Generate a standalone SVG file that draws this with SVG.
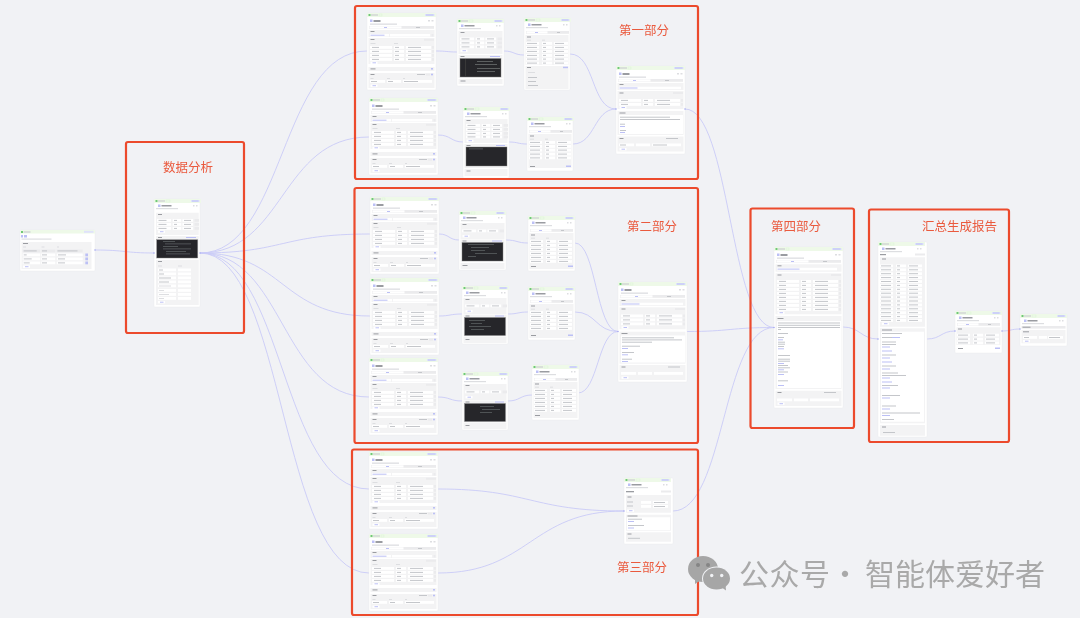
<svg xmlns="http://www.w3.org/2000/svg" xmlns:xlink="http://www.w3.org/1999/xlink" width="1080" height="618" viewBox="0 0 1080 618">
<style>
.c{fill:#fff;stroke:#e9eaec;stroke-width:.4}
.p{fill:#f3f3f4}.w{fill:#fff}.t{fill:#c4c6ca}.l{fill:#dddee1}.k{fill:#9a9ca1}.b{fill:#bcc0f5}.d{fill:#26262a;stroke:#8a8a8c;stroke-width:.4}.g{fill:#eef9e8}.gd{fill:#6fc975}.tg{fill:#dfe2fb}.s{fill:#ebebed}.cl{fill:#5c5e60}
.e{fill:none;stroke:#c9cbf7;stroke-width:.9}
.dot{fill:#9a9df2}
.box{fill:none;stroke:#ec4a2c;stroke-width:2.2}
.lab{font-family:"Noto Sans CJK SC","Liberation Sans",sans-serif;font-size:12.5px;fill:#ea5a3e}
.wm{font-family:"Noto Sans CJK SC","Liberation Sans",sans-serif;font-size:30px;fill:#a9a9a9}
</style>
<defs>
<filter id="soft" x="-5%" y="-5%" width="110%" height="110%"><feGaussianBlur stdDeviation="0.3"/></filter>
<g id="hW"><rect class="g" width="69" height="4"/><rect class="gd" x="1.5" y="1" width="2" height="2"/><rect class="t" x="4" y="1.5" width="7" height="1"/><rect class="g" x="12" y="1" width="3" height="2" stroke="#cfeec8" stroke-width=".3"/><rect class="tg" x="58" y="1" width="9.5" height="2"/><rect class="b" x="59" y="1.5" width="7.5" height="1"/><rect class="b" x="3" y="6.5" width="2.5" height="2.5"/><rect class="k" x="6.5" y="7" width="7" height="2"/><rect class="l" x="61" y="7" width="2" height="1.5"/><rect class="l" x="64.5" y="7" width="2" height="1.5"/><rect class="l" x="3" y="10.5" width="27" height="1.3"/></g>
<g id="hN"><rect class="g" width="47" height="4"/><rect class="gd" x="1.5" y="1" width="2" height="2"/><rect class="t" x="4" y="1.5" width="7" height="1"/><rect class="g" x="12" y="1" width="4" height="2" stroke="#cfeec8" stroke-width=".3"/><rect class="tg" x="37" y="1" width="8.5" height="2"/><rect class="b" x="38" y="1.5" width="6.5" height="1"/><rect class="b" x="4" y="5.5" width="2.5" height="2.5"/><rect class="k" x="7.5" y="6" width="10" height="1.5"/><rect class="l" x="39" y="6" width="1.5" height="1.5"/><rect class="l" x="42" y="6" width="1.5" height="1.5"/><rect class="l" x="2" y="9" width="22" height="1.2"/></g>
<g id="tW"><rect class="s" x="2" y="13" width="65" height="2.8"/><rect class="w" x="2.5" y="13.3" width="32" height="2.2"/><rect class="b" x="17" y="14" width="3" height="1"/><rect class="t" x="49" y="14" width="4" height="1"/></g>
<g id="tN"><rect class="s" x="2" y="13" width="43" height="2.8"/><rect class="w" x="2.5" y="13.3" width="21" height="2.2"/><rect class="b" x="11" y="14" width="3" height="1"/><rect class="t" x="33" y="14" width="3" height="1"/></g>
<g id="rW"><rect class="w" x="3" width="22" height="2.8"/><rect class="t" x="5" y=".9" width="7" height="1"/><rect class="w" x="27" width="10" height="2.8"/><rect class="t" x="28" y=".9" width="4" height="1"/><rect class="w" x="39" width="25" height="2.8"/><rect class="t" x="41" y=".9" width="13" height="1"/><rect class="s" x="65" width="2" height="2.8"/></g>
<g id="rN"><rect class="w" x="3" width="14" height="2.8"/><rect class="t" x="4.5" y=".9" width="8" height="1"/><rect class="w" x="18.7" width="8.5" height="2.8"/><rect class="t" x="20" y=".9" width="3" height="1"/><rect class="w" x="28.5" width="10.5" height="2.8"/><rect class="t" x="30" y=".9" width="7" height="1"/><rect class="s" x="40.5" width="4.5" height="2.8"/></g>
<g id="rT"><rect class="w" x="2" width="13" height="2.8"/><rect class="t" x="3" y=".9" width="10" height="1"/><rect class="w" x="18" width="10" height="2.8"/><rect class="t" x="19" y=".9" width="3" height="1"/><rect class="w" x="30" width="14" height="2.8"/><rect class="t" x="31" y=".9" width="9" height="1"/></g>
<g id="add"><rect class="w" width="7" height="2.4"/><rect class="b" x="2" y=".7" width="3.5" height="1"/></g>
<g id="agent"><rect class="c" width="69" height="77" rx="1"/><use href="#hW"/><use href="#tW"/>
<rect class="p" x="1.5" y="17" width="66" height="7"/><rect class="k" x="3.5" y="18" width="4" height="1"/><rect class="w" x="3" y="21" width="19" height="2.5"/><rect class="b" x="3.5" y="21.7" width="14" height="1"/><rect class="w" x="23" y="21" width="40" height="2.5"/><rect class="s" x="64.5" y="21" width="2" height="2.5"/>
<rect class="p" x="1.5" y="25" width="66" height="26"/><rect class="k" x="3.5" y="26" width="4" height="1"/><rect class="s" x="57" y="25.8" width="10" height="2"/><rect class="l" x="3.5" y="30" width="5" height="1"/><rect class="l" x="27" y="30" width="4" height="1"/>
<use href="#rW" y="33"/><use href="#rW" y="37"/><use href="#rW" y="41"/><use href="#rW" y="45"/><use href="#add" x="3.5" y="48.6"/>
<rect class="p" x="1.5" y="54" width="66" height="4"/><rect class="k" x="3.5" y="55.4" width="5" height="1"/><rect class="b" x="64" y="55" width="2" height="1.6"/>
<rect class="p" x="1.5" y="60" width="66" height="15"/><rect class="k" x="3.5" y="61" width="4" height="1"/><rect class="t" x="50" y="61" width="8" height="1"/><rect class="s" x="59" y="60.6" width="4" height="2"/><rect class="b" x="64" y="60.7" width="2" height="1.6"/><rect class="l" x="3.5" y="65" width="3" height="1"/><rect class="l" x="20" y="65" width="3" height="1"/><rect class="l" x="36" y="65" width="2" height="1"/>
<rect class="w" x="3" y="67" width="15" height="2.8"/><rect class="t" x="4" y="68" width="6" height="1"/><rect class="w" x="20" y="67" width="14" height="2.8"/><rect class="t" x="21" y="68" width="5" height="1"/><rect class="w" x="36" y="67" width="29" height="2.8"/><rect class="t" x="37" y="68" width="14" height="1"/><use href="#add" x="3.5" y="71.5"/></g>
</defs>

<rect width="1080" height="618" fill="#f1f2f5"/>

<g id="connectors">
<path class="e" d="M95 250C125 250 125 253 154 253"/>
<path class="e" d="M200 253C285 253 280 51 367 51"/>
<path class="e" d="M200 253C285 253 280 137 369 137"/>
<path class="e" d="M200 253C285 253 280 234 370 234"/>
<path class="e" d="M200 253C285 253 280 316 370 316"/>
<path class="e" d="M200 253C285 253 280 397 369 397"/>
<path class="e" d="M200 253C285 253 280 489 369 489"/>
<path class="e" d="M200 253C285 253 280 573 369 573"/>
<path class="e" d="M436 51C447 51 447 52 457 52"/>
<path class="e" d="M504 51C514 51 514 55 524 55"/>
<path class="e" d="M570 54C595 54 591 109 616 109"/>
<path class="e" d="M438 135C451 135 451 142 463 142"/>
<path class="e" d="M509 142C518 142 518 144 527 144"/>
<path class="e" d="M573 144C595 144 594 109 616 109"/>
<path class="e" d="M439 234C449 234 449 240 459 240"/>
<path class="e" d="M506 240C517 240 517 243 528 243"/>
<path class="e" d="M575 243C596 243 596 331.500 618 331.500"/>
<path class="e" d="M439 316C450 316 450 314 462 314"/>
<path class="e" d="M508 314C518 314 518 312 528 312"/>
<path class="e" d="M575 312C596 312 596 331.500 618 331.500"/>
<path class="e" d="M438 397C450 397 450 401 462 401"/>
<path class="e" d="M508 401C520 401 520 395 532 395"/>
<path class="e" d="M578 393C598 393 598 331.500 618 331.500"/>
<path class="e" d="M438 489C530 489 530 511 624 511"/>
<path class="e" d="M438 573C530 573 530 511 624 511"/>
<path class="e" d="M685 109C730 109 730 327.500 774 327.500"/>
<path class="e" d="M687 331.500C730 331.500 730 327.500 774 327.500"/>
<path class="e" d="M673 511C725 511 722 327.500 774 327.500"/>
<path class="e" d="M843 327C860 327 861 339 878 339"/>
<path class="e" d="M927 339C941 339 941 331 955 331"/>
<path class="e" d="M1002 331C1011 331 1011 329 1020 329"/>
</g>

<g id="nodes" filter="url(#soft)">
<g id="n-start" transform="translate(20 230)"><rect class="c" width="75" height="41" rx="1"/><rect class="g" width="75" height="3.5"/><rect class="gd" x="1" y="1" width="2" height="2"/><rect class="t" x="3.5" y="1.5" width="7" height="1"/><rect class="tg" x="64" y=".8" width="9.5" height="2"/><rect class="b" x="1" y="5" width="2" height="2.5"/><rect class="b" x="4" y="5" width="3" height="2.5"/><rect class="l" x="1.5" y="8.5" width="30" height="1.2"/>
<rect class="p" x="1.5" y="12" width="70" height="27"/><rect class="k" x="3" y="13" width="5" height="1"/><rect class="l" x="3" y="16.5" width="3" height="1"/><rect class="l" x="21.5" y="16.5" width="3" height="1"/><rect class="l" x="37" y="16.5" width="2" height="1"/>
<rect class="s" x="2.7" y="19.5" width="17.5" height="2.8"/><rect class="t" x="3.7" y="20.4" width="13" height="1"/><rect class="s" x="21.3" y="19.5" width="14" height="2.8"/><rect class="t" x="22" y="20.4" width="5" height="1"/><rect class="s" x="36.7" y="19.5" width="26" height="2.8"/><rect class="t" x="37.5" y="20.4" width="20" height="1"/>
<rect class="w" x="2.7" y="23.5" width="17.5" height="2.8"/><rect class="t" x="3.7" y="24.4" width="3" height="1"/><rect class="w" x="21.3" y="23.5" width="14" height="2.8"/><rect class="t" x="22" y="24.4" width="5" height="1"/><rect class="w" x="36.7" y="23.5" width="26" height="2.8"/><rect class="t" x="38" y="24.4" width="8" height="1"/><rect class="b" x="65.3" y="23.5" width="2.7" height="2.8"/>
<rect class="w" x="2.7" y="27.5" width="17.5" height="2.8"/><rect class="t" x="3.7" y="28.4" width="8" height="1"/><rect class="w" x="21.3" y="27.5" width="14" height="2.8"/><rect class="t" x="22" y="28.4" width="5" height="1"/><rect class="w" x="36.7" y="27.5" width="26" height="2.8"/><rect class="t" x="38" y="28.4" width="7" height="1"/><rect class="b" x="65.3" y="27.5" width="2.7" height="2.8"/>
<rect class="w" x="2.7" y="31.5" width="17.5" height="2.8"/><rect class="t" x="3.7" y="32.4" width="6" height="1"/><rect class="w" x="21.3" y="31.5" width="14" height="2.8"/><rect class="t" x="22" y="32.4" width="5" height="1"/><rect class="w" x="36.7" y="31.5" width="26" height="2.8"/><rect class="t" x="38" y="32.4" width="7" height="1"/><rect class="b" x="65.3" y="31.5" width="2.7" height="2.8"/><use href="#add" x="3" y="35.5"/></g>

<g id="n-analysis" transform="translate(154 199)"><rect class="c" width="46" height="108" rx="1"/><use href="#hN"/>
<rect class="p" x="2" y="13.7" width="42.7" height="22.3"/><rect class="k" x="4" y="15" width="4" height="1"/><use href="#rN" y="20"/><use href="#rN" y="24"/><use href="#rN" y="28"/><use href="#add" x="4" y="31.5"/>
<rect class="p" x="2" y="37" width="42.7" height="22.5"/><rect class="k" x="4" y="38" width="4" height="1"/><rect class="b" x="32" y="38" width="10" height="1"/><rect class="d" x="2.7" y="40.7" width="41" height="18.3"/><rect class="cl" x="9" y="42" width="12" height=".8"/><rect class="cl" x="11" y="44.5" width="26" height=".8"/><rect class="cl" x="9" y="47" width="15" height=".8"/><rect class="cl" x="9" y="49.5" width="28" height=".8"/><rect class="cl" x="12" y="52" width="20" height=".8"/><rect class="cl" x="12" y="54.5" width="24" height=".8"/>
<rect class="p" x="2" y="61" width="42.7" height="45"/><rect class="k" x="4" y="62" width="4" height="1"/><rect class="l" x="4" y="66.5" width="4" height="1"/><rect class="l" x="24" y="66.5" width="4" height="1"/>
<g id="a-rows"><rect class="w" x="4" y="69.5" width="18" height="2.8"/><rect class="t" x="5" y="70.5" width="4" height="1"/><rect class="w" x="24" y="69.5" width="13" height="2.8"/><rect class="w" x="4" y="73.5" width="18" height="2.8"/><rect class="t" x="5" y="74.5" width="5" height="1"/><rect class="w" x="24" y="73.5" width="13" height="2.8"/><rect class="w" x="4" y="77.5" width="18" height="2.8"/><rect class="t" x="5" y="78.5" width="12" height="1"/><rect class="w" x="24" y="77.5" width="13" height="2.8"/><rect class="w" x="4" y="81.5" width="18" height="2.8"/><rect class="t" x="5" y="82.5" width="10" height="1"/><rect class="w" x="24" y="81.5" width="13" height="2.8"/><rect class="w" x="4" y="85.5" width="18" height="2.8"/><rect class="l" x="5" y="86.5" width="12" height="1"/><rect class="w" x="24" y="85.5" width="13" height="2.8"/><rect class="w" x="4" y="90" width="18" height="2.8"/><rect class="l" x="5" y="91" width="5" height="1"/><rect class="w" x="24" y="90" width="13" height="2.8"/><rect class="w" x="4" y="94" width="18" height="2.8"/><rect class="l" x="5" y="95" width="10" height="1"/><rect class="w" x="24" y="94" width="13" height="2.8"/><rect class="w" x="4" y="98" width="18" height="2.8"/><rect class="l" x="5" y="99" width="5" height="1"/><rect class="w" x="24" y="98" width="13" height="2.8"/></g><use href="#add" x="4" y="102"/></g>

<g id="n-a1" transform="translate(367 13)"><use href="#agent"/></g>
<g id="n-a2" transform="translate(457 19)"><rect class="c" width="47" height="67" rx="1"/><use href="#hN"/><rect class="p" x="1.5" y="12" width="44" height="23"/><rect class="k" x="3.5" y="13" width="4" height="1"/><use href="#rN" y="18.5"/><use href="#rN" y="22.5"/><use href="#rN" y="26.5"/><use href="#add" x="3.5" y="30.5"/><rect class="p" x="1.5" y="36" width="44" height="23"/><rect class="k" x="3.5" y="37" width="4" height="1"/><rect class="b" x="33" y="37" width="10" height="1"/><rect class="d" x="3" y="39.5" width="41" height="18.5"/><rect class="cl" x="20" y="42" width="16" height="1"/><rect class="cl" x="18" y="45" width="22" height="1"/><rect class="cl" x="20" y="49" width="23" height="1"/><rect class="cl" x="20" y="52" width="18" height="1"/><rect x="8" y="40" width=".6" height="17" fill="#444"/><rect class="p" x="1.5" y="60" width="44" height="5"/><rect class="k" x="3.5" y="61.5" width="5" height="1"/></g>
<g id="n-a3" transform="translate(524 18)"><rect class="c" width="46" height="72" rx="1"/><use href="#hN"/><use href="#tN"/><rect class="p" x="1.5" y="17" width="43" height="30"/><rect class="k" x="3" y="18.5" width="4" height="1"/><rect class="l" x="3" y="21.7" width="4" height="1"/><rect class="l" x="18" y="21.7" width="3" height="1"/><use href="#rT" y="24"/><use href="#rT" y="28"/><use href="#rT" y="32"/><use href="#rT" y="36"/><use href="#rT" y="39.7"/><use href="#rT" y="43.7"/><rect class="p" x="1.5" y="48" width="43" height="23"/><rect class="k" x="3" y="49" width="4" height="1"/><rect class="b" x="39" y="48.7" width="5" height="1.5"/><rect class="l" x="4" y="54" width="7" height="1"/><rect class="t" x="4" y="59" width="9" height="1"/><rect class="t" x="4" y="63" width="8" height="1"/><rect class="t" x="4" y="67" width="10" height="1"/></g>
<g id="n-b1" transform="translate(369 98)"><use href="#agent"/></g>
<g id="n-b2" transform="translate(463 107)"><rect class="c" width="46" height="71" rx="1"/><use href="#hN"/><rect class="p" x="1.5" y="12" width="43" height="24"/><rect class="k" x="3.5" y="13" width="4" height="1"/><use href="#rN" y="17"/><use href="#rN" y="21"/><use href="#rN" y="25"/><use href="#rN" y="28.5"/><use href="#add" x="3.5" y="32.5"/><rect class="p" x="1.5" y="37" width="43" height="24"/><rect class="k" x="3.5" y="38" width="4" height="1"/><rect class="b" x="33" y="38" width="9" height="1"/><rect class="d" x="3" y="40" width="41" height="19"/><rect class="cl" x="6" y="41.5" width="14" height=".8"/><rect class="p" x="1.5" y="62" width="43" height="7"/><rect class="k" x="3.5" y="63.5" width="4" height="1"/></g>
<g id="n-b3" transform="translate(527 117)"><rect class="c" width="46" height="54" rx="1"/><use href="#hN"/><use href="#tN"/><rect class="p" x="1.5" y="17" width="43" height="34"/><rect class="k" x="3" y="18.5" width="4" height="1"/><rect class="l" x="3" y="21.7" width="4" height="1"/><rect class="l" x="18" y="21.7" width="3" height="1"/><use href="#rT" y="24"/><use href="#rT" y="28"/><use href="#rT" y="31.7"/><use href="#rT" y="35.7"/><use href="#rT" y="39.5"/><rect class="k" x="3" y="49" width="5" height="1"/><rect class="b" x="39" y="48.5" width="5" height="1.5"/></g>
<g id="n-c" transform="translate(616 66)"><rect class="c" width="69" height="88" rx="1"/><use href="#hW"/><use href="#tW"/><rect class="p" x="1.5" y="17" width="66" height="7"/><rect class="k" x="3.5" y="18" width="4" height="1"/><rect class="w" x="3" y="20.7" width="62" height="2.5"/><rect class="b" x="3.5" y="21.5" width="18" height="1"/><rect class="p" x="1.5" y="25" width="66" height="18"/><rect class="k" x="3.5" y="26.5" width="4" height="1"/><rect class="s" x="57" y="26" width="10" height="2"/><use href="#rW" y="33"/><use href="#rW" y="37"/><use href="#add" x="3.5" y="40.3"/><rect class="p" x="1.5" y="45" width="66" height="24"/><rect class="k" x="3.5" y="46.5" width="6" height="1"/><rect class="w" x="3" y="49" width="64" height="19"/><rect class="t" x="4" y="50.7" width="50" height="1"/><rect class="t" x="4" y="53" width="60" height="1"/><rect class="t" x="4" y="57.7" width="5" height="1"/><rect class="b" x="4" y="60" width="5" height="1"/><rect class="t" x="4" y="64" width="6" height="1"/><rect class="b" x="4" y="66" width="5" height="1"/><rect class="p" x="1.5" y="70.5" width="66" height="15"/><rect class="k" x="3.5" y="72" width="4" height="1"/><rect class="t" x="50" y="72" width="12" height="1"/><rect class="w" x="3" y="77.5" width="15" height="2.8"/><rect class="t" x="4" y="78.5" width="6" height="1"/><rect class="w" x="20" y="77.5" width="14" height="2.8"/><rect class="w" x="36" y="77.5" width="29" height="2.8"/><rect class="t" x="37" y="78.5" width="14" height="1"/><use href="#add" x="3.5" y="82"/></g>

<g id="n-d1" transform="translate(370 197)"><use href="#agent"/></g>
<g id="n-d2" transform="translate(459 211)"><rect class="c" width="47" height="59" rx="1"/><use href="#hN"/><rect class="p" x="1.5" y="12" width="44" height="16"/><rect class="k" x="3.5" y="13" width="4" height="1"/><use href="#rN" y="18.5"/><use href="#add" x="3.5" y="24"/><rect class="p" x="1.5" y="28.5" width="44" height="22"/><rect class="k" x="3.5" y="29.5" width="4" height="1"/><rect class="b" x="33" y="29.5" width="10" height="1"/><rect class="d" x="3" y="31.5" width="41" height="18.5"/><rect class="cl" x="9" y="33" width="26" height=".8"/><rect class="cl" x="12" y="36" width="18" height=".8"/><rect class="cl" x="12" y="39" width="14" height=".8"/><rect class="cl" x="16" y="42" width="22" height=".8"/><rect class="cl" x="9" y="45" width="8" height=".8"/><rect class="p" x="1.5" y="52" width="44" height="6"/><rect class="k" x="3.5" y="54" width="5" height="1"/></g>
<g id="n-d3" transform="translate(528 216)"><rect class="c" width="47" height="55" rx="1"/><use href="#hN"/><use href="#tN"/><rect class="p" x="1.5" y="17" width="44" height="36"/><rect class="k" x="3" y="18.5" width="4" height="1"/><rect class="l" x="3" y="21.7" width="4" height="1"/><rect class="l" x="18" y="21.7" width="3" height="1"/><use href="#rT" y="24"/><use href="#rT" y="28"/><use href="#rT" y="32"/><use href="#rT" y="36"/><use href="#rT" y="40"/><use href="#rT" y="44"/><rect class="k" x="3" y="50" width="5" height="1"/><rect class="b" x="40" y="49.5" width="5" height="1.5"/></g>
<g id="n-e1" transform="translate(370 278)"><use href="#agent"/></g>
<g id="n-e2" transform="translate(462 286)"><rect class="c" width="46" height="58" rx="1"/><use href="#hN"/><rect class="p" x="1.5" y="12" width="43" height="16"/><rect class="k" x="3.5" y="13" width="4" height="1"/><use href="#rN" y="18.5"/><use href="#add" x="3.5" y="24"/><rect class="p" x="1.5" y="28.5" width="43" height="22"/><rect class="k" x="3.5" y="29.5" width="4" height="1"/><rect class="b" x="33" y="29.5" width="9" height="1"/><rect class="d" x="2.5" y="31.5" width="41" height="18"/><rect class="cl" x="7" y="34" width="16" height=".8"/><rect class="cl" x="9" y="37" width="11" height=".8"/><rect class="cl" x="7" y="40" width="22" height=".8"/><rect class="cl" x="9" y="43" width="13" height=".8"/><rect class="p" x="1.5" y="51" width="43" height="6"/><rect class="k" x="3.5" y="53" width="4" height="1"/></g>
<g id="n-e3" transform="translate(528 287)"><rect class="c" width="47" height="53" rx="1"/><use href="#hN"/><use href="#tN"/><rect class="p" x="1.5" y="17" width="44" height="34"/><rect class="k" x="3" y="18.5" width="4" height="1"/><rect class="l" x="3" y="21.7" width="4" height="1"/><rect class="l" x="18" y="21.7" width="3" height="1"/><use href="#rT" y="24"/><use href="#rT" y="28"/><use href="#rT" y="32"/><use href="#rT" y="36"/><use href="#rT" y="40"/><rect class="k" x="3" y="48" width="5" height="1"/><rect class="b" x="40" y="47.5" width="5" height="1.5"/></g>
<g id="n-f1" transform="translate(369 358)"><use href="#agent"/></g>
<g id="n-f2" transform="translate(462 372)"><rect class="c" width="46" height="58" rx="1"/><use href="#hN"/><rect class="p" x="1.5" y="12" width="43" height="16"/><rect class="k" x="3.5" y="13" width="4" height="1"/><use href="#rN" y="18.5"/><use href="#add" x="3.5" y="24"/><rect class="p" x="1.5" y="28.5" width="43" height="22"/><rect class="k" x="3.5" y="29.5" width="4" height="1"/><rect class="b" x="33" y="29.5" width="9" height="1"/><rect class="d" x="2.5" y="31.5" width="41" height="18"/><rect class="cl" x="18" y="34" width="14" height=".8"/><rect class="cl" x="20" y="37" width="18" height=".8"/><rect class="cl" x="18" y="40" width="12" height=".8"/><rect class="p" x="1.5" y="51" width="43" height="6"/><rect class="k" x="3.5" y="53" width="4" height="1"/></g>
<g id="n-f3" transform="translate(532 365)"><rect class="c" width="47" height="55" rx="1"/><use href="#hN"/><use href="#tN"/><rect class="p" x="1.5" y="17" width="44" height="36"/><rect class="k" x="3" y="18.5" width="4" height="1"/><rect class="l" x="3" y="21.7" width="4" height="1"/><rect class="l" x="18" y="21.7" width="3" height="1"/><use href="#rT" y="24"/><use href="#rT" y="28"/><use href="#rT" y="32"/><use href="#rT" y="36"/><use href="#rT" y="40"/><use href="#rT" y="44"/><rect class="k" x="3" y="50" width="5" height="1"/></g>
<g id="n-g" transform="translate(618 282)"><rect class="c" width="69" height="100" rx="1"/><use href="#hW"/><use href="#tW"/><rect class="p" x="1.5" y="17" width="66" height="7"/><rect class="k" x="3.5" y="18" width="4" height="1"/><rect class="w" x="3" y="20.7" width="62" height="2.5"/><rect class="b" x="3.5" y="21.5" width="18" height="1"/><rect class="p" x="1.5" y="25.3" width="66" height="22"/><rect class="k" x="3.5" y="26.5" width="4" height="1"/><rect class="s" x="57" y="26" width="10" height="2"/><use href="#rW" y="32.5"/><use href="#rW" y="36.5"/><use href="#rW" y="40.5"/><use href="#add" x="3.5" y="44.3"/><rect class="p" x="1.5" y="49.7" width="66" height="32"/><rect class="k" x="3.5" y="51" width="6" height="1"/><rect class="w" x="3" y="53.5" width="64" height="27"/><rect class="t" x="4" y="55.3" width="52" height="1"/><rect class="t" x="4" y="57.4" width="60" height="1"/><rect class="t" x="4" y="59.7" width="30" height="1"/><rect class="t" x="4" y="63.7" width="18" height="1"/><rect class="b" x="4" y="66" width="6" height="1"/><rect class="t" x="4" y="70" width="12" height="1"/><rect class="b" x="4" y="72.3" width="6" height="1"/><rect class="t" x="4" y="76.7" width="10" height="1"/><rect class="b" x="4" y="79" width="6" height="1"/><rect class="p" x="1.5" y="83" width="66" height="15"/><rect class="k" x="3.5" y="84.5" width="4" height="1"/><rect class="t" x="50" y="84.5" width="12" height="1"/><rect class="w" x="3" y="90" width="15" height="2.8"/><rect class="w" x="20" y="90" width="14" height="2.8"/><rect class="w" x="36" y="90" width="29" height="2.8"/><use href="#add" x="3.5" y="94.5"/></g>

<g id="n-h1" transform="translate(369 452)"><use href="#agent"/></g>
<g id="n-h2" transform="translate(369 534)"><use href="#agent"/></g>
<g id="n-i" transform="translate(624 478)"><rect class="c" width="49" height="66" rx="1"/><use href="#hN"/><rect class="k" x="2" y="13" width="8" height="1.3"/><rect class="s" x="37" y="12.5" width="10" height="2"/><rect class="p" x="2" y="17" width="45" height="17.7"/><rect class="k" x="3.5" y="18.5" width="4" height="1"/><rect class="t" x="3" y="23.5" width="6" height="1"/><rect class="w" x="17" y="23" width="10" height="2.8"/><rect class="w" x="29" y="23" width="15" height="2.8"/><rect class="t" x="30" y="24" width="11" height="1"/><rect class="t" x="3" y="27.5" width="6" height="1"/><rect class="w" x="17" y="27" width="10" height="2.8"/><rect class="w" x="29" y="27" width="15" height="2.8"/><rect class="t" x="30" y="28" width="11" height="1"/><use href="#add" x="3" y="31.5"/><rect class="p" x="2" y="36.7" width="45" height="16"/><rect class="k" x="3.5" y="37.5" width="10" height="1"/><rect class="w" x="3" y="39.3" width="43" height="12.7"/><rect class="t" x="4" y="40.7" width="14" height="1"/><rect class="b" x="4" y="43" width="6" height="1"/><rect class="t" x="4" y="47" width="16" height="1"/><rect class="b" x="4" y="49.5" width="6" height="1"/><rect class="p" x="2" y="54.3" width="45" height="9.4"/><rect class="k" x="3.5" y="55.5" width="4" height="1"/><rect class="t" x="4" y="59.8" width="12" height="1"/></g>

<g id="n-j" transform="translate(774 247)"><rect class="c" width="69" height="161" rx="1"/><use href="#hW"/><use href="#tW"/><rect class="p" x="1.5" y="17.3" width="66" height="7.4"/><rect class="k" x="3.5" y="18.3" width="4" height="1"/><rect class="w" x="3" y="20.8" width="60" height="2.6"/><rect class="b" x="3.5" y="21.6" width="22" height="1"/><rect class="p" x="1.5" y="26.3" width="66" height="41"/><rect class="k" x="3.5" y="27.5" width="4" height="1"/><rect class="s" x="57" y="27" width="10" height="2"/><use href="#rW" y="33"/><use href="#rW" y="37"/><use href="#rW" y="41"/><use href="#rW" y="45"/><use href="#rW" y="49"/><use href="#rW" y="53"/><use href="#rW" y="57"/><use href="#rW" y="61"/><use href="#add" x="3.5" y="64.5"/><rect class="p" x="1.5" y="69" width="66" height="73"/><rect class="k" x="3.5" y="71" width="6" height="1"/><rect class="w" x="3" y="74" width="64" height="67"/><rect class="t" x="4" y="75.5" width="62" height="1"/><rect class="t" x="4" y="77.8" width="62" height="1"/><rect class="t" x="4" y="80" width="62" height="1"/><rect class="t" x="4" y="82" width="3" height="1"/><rect class="t" x="4" y="86" width="10" height="1"/><rect class="t" x="4" y="90" width="6" height="1"/><rect class="b" x="4" y="92.3" width="5" height="1"/><rect class="t" x="4" y="94.7" width="7" height="1"/><rect class="t" x="4" y="96.7" width="7" height="1"/><rect class="t" x="4" y="99" width="6" height="1"/><rect class="b" x="4" y="101.3" width="6" height="1"/><rect class="t" x="4" y="108" width="12" height="1"/><rect class="t" x="4" y="111.7" width="12" height="1"/><rect class="t" x="4" y="113.7" width="12" height="1"/><rect class="b" x="4" y="116" width="6" height="1"/><rect class="t" x="4" y="118" width="10" height="1"/><rect class="t" x="4" y="120.3" width="12" height="1"/><rect class="b" x="4" y="122.3" width="6" height="1"/><rect class="t" x="4" y="124.5" width="10" height="1"/><rect class="b" x="4" y="127" width="6" height="1"/><rect class="t" x="4" y="133.3" width="10" height="1"/><rect class="b" x="4" y="138" width="6" height="1"/><rect class="p" x="1.5" y="143.7" width="66" height="15.3"/><rect class="k" x="3.5" y="145" width="4" height="1"/><rect class="t" x="50" y="145" width="12" height="1"/><rect class="w" x="3" y="151.5" width="15" height="2.8"/><rect class="w" x="20" y="151.5" width="14" height="2.8"/><rect class="w" x="36" y="151.5" width="29" height="2.8"/><use href="#add" x="3.5" y="155.5"/></g>

<g id="n-k" transform="translate(878 242)"><rect class="c" width="49" height="195" rx="1"/><use href="#hN"/><rect class="k" x="2" y="12" width="6" height="1.2"/><rect class="s" x="37" y="11.5" width="10" height="2"/><rect class="p" x="2" y="15.3" width="45" height="69.4"/><rect class="k" x="4" y="16.5" width="4" height="1"/><g id="k-rows"><use href="#rT" y="22.5"/><use href="#rT" y="26.4"/><use href="#rT" y="30.3"/><use href="#rT" y="34.2"/><use href="#rT" y="38.1"/><use href="#rT" y="42"/><use href="#rT" y="45.9"/><use href="#rT" y="49.8"/><use href="#rT" y="53.7"/><use href="#rT" y="57.6"/><use href="#rT" y="61.5"/><use href="#rT" y="65.4"/><use href="#rT" y="69.3"/><use href="#rT" y="73.2"/><use href="#rT" y="77"/></g><use href="#add" x="4" y="80.5"/><rect class="p" x="2" y="86.3" width="45" height="95"/><rect class="k" x="4" y="87.5" width="10" height="1"/><rect class="w" x="3" y="89.7" width="43" height="90"/><rect class="t" x="4" y="91" width="20" height="1"/><rect class="t" x="4" y="95" width="10" height="1"/><rect class="b" x="14" y="95" width="8" height="1"/><rect class="t" x="4" y="99.5" width="14" height="1"/><rect class="t" x="4" y="102" width="14" height="1"/><rect class="b" x="4" y="104.5" width="8" height="1"/><rect class="b" x="4" y="108.5" width="10" height="1"/><rect class="t" x="4" y="112.5" width="14" height="1"/><rect class="b" x="4" y="115.5" width="8" height="1"/><rect class="b" x="4" y="119.5" width="10" height="1"/><rect class="t" x="4" y="123.5" width="14" height="1"/><rect class="b" x="4" y="126.5" width="8" height="1"/><rect class="t" x="4" y="130.5" width="16" height="1"/><rect class="t" x="4" y="133" width="24" height="1"/><rect class="b" x="4" y="135.5" width="8" height="1"/><rect class="b" x="4" y="139.5" width="10" height="1"/><rect class="t" x="4" y="143" width="16" height="1"/><rect class="b" x="4" y="145.5" width="8" height="1"/><rect class="t" x="4" y="153" width="18" height="1"/><rect class="b" x="4" y="155.5" width="8" height="1"/><rect class="t" x="4" y="163.5" width="14" height="1"/><rect class="b" x="4" y="166.5" width="8" height="1"/><rect class="t" x="4" y="170.5" width="38" height="1"/><rect class="b" x="4" y="173" width="8" height="1"/><rect class="t" x="4" y="177" width="12" height="1"/><rect class="p" x="2" y="183" width="45" height="10.7"/><rect class="k" x="4" y="184.5" width="4" height="1"/><rect class="t" x="5" y="190" width="12" height="1"/></g>

<g id="n-l" transform="translate(955 311)"><rect class="c" width="47" height="42" rx="1"/><use href="#hN"/><use href="#tN" y="-1"/><rect class="p" x="1.5" y="16.3" width="44" height="17.7"/><rect class="k" x="3" y="17.5" width="4" height="1"/><use href="#rT" y="22.7"/><use href="#rT" y="26.7"/><use href="#rT" y="30.5"/><rect class="k" x="3" y="37" width="5" height="1"/><rect class="b" x="40" y="36.5" width="5" height="1.5"/></g>
<g id="n-m" transform="translate(1020 314)"><rect class="c" width="47" height="32" rx="1"/><use href="#hN"/><rect class="s" x="1.5" y="12" width="44" height="2.6"/><rect class="k" x="2.5" y="12.7" width="8" height="1"/><rect class="p" x="1.5" y="16" width="44" height="13.3"/><rect class="k" x="3" y="17.3" width="6" height="1"/><rect class="w" x="3" y="22" width="14" height="2.8"/><rect class="t" x="4" y="23" width="5" height="1"/><rect class="w" x="19" y="22" width="8" height="2.8"/><rect class="w" x="28" y="22" width="15" height="2.8"/><rect class="t" x="29" y="23" width="11" height="1"/><use href="#add" x="3" y="26"/></g>
</g>

<g id="ports">
<circle class="dot" cx="95" cy="250" r=".7"/><circle class="dot" cx="154" cy="253" r=".7"/><circle class="dot" cx="200" cy="253" r=".7"/><circle class="dot" cx="616" cy="109" r=".7"/><circle class="dot" cx="685" cy="109" r=".7"/><circle class="dot" cx="618" cy="331.500" r=".7"/><circle class="dot" cx="774" cy="327.500" r=".7"/><circle class="dot" cx="624" cy="511" r=".7"/><circle class="dot" cx="878" cy="339" r=".7"/><circle class="dot" cx="955" cy="331" r=".7"/><circle class="dot" cx="1002" cy="331" r=".7"/><circle class="dot" cx="1020" cy="329" r=".7"/>
</g>

<g id="frames">
<rect class="box" x="126" y="142" width="118" height="191" rx="2"/>
<rect class="box" x="355" y="6" width="343" height="173" rx="2"/>
<rect class="box" x="354.500" y="188" width="343.500" height="255" rx="2"/>
<rect class="box" x="352" y="449.500" width="346" height="165.500" rx="2"/>
<rect class="box" x="750.500" y="208.500" width="103.500" height="219.500" rx="2"/>
<rect class="box" x="869" y="209.500" width="140" height="232.500" rx="2"/>
</g>
<g id="labels">
<text class="lab" x="163" y="171.500">数据分析</text>
<text class="lab" x="619" y="34.500">第一部分</text>
<text class="lab" x="627" y="230.500">第二部分</text>
<text class="lab" x="617" y="571.500">第三部分</text>
<text class="lab" x="771" y="230.500">第四部分</text>
<text class="lab" x="922" y="230.500">汇总生成报告</text>
</g>
<g id="watermark">
<ellipse cx="703" cy="569" rx="15" ry="13" fill="#a6a6a6"/><path d="M695 578l0 6 6-4z" fill="#a6a6a6"/>
<circle cx="698" cy="565" r="2" fill="#858585"/><circle cx="708" cy="565" r="2" fill="#858585"/>
<ellipse cx="716.500" cy="578.500" rx="14.500" ry="12" fill="#f1f2f5"/><ellipse cx="716.500" cy="578.500" rx="13.500" ry="11" fill="#a6a6a6"/><path d="M721 587l5 3.500-.5-6z" fill="#a6a6a6"/>
<circle cx="711.700" cy="575.500" r="1.700" fill="#f1f2f5"/><circle cx="721.700" cy="575.500" r="1.700" fill="#f1f2f5"/>
<text class="wm" x="739 769.500 800 830 865 895 925 955 985 1015" y="585">公众号·智能体爱好者</text>
</g>
</svg>
